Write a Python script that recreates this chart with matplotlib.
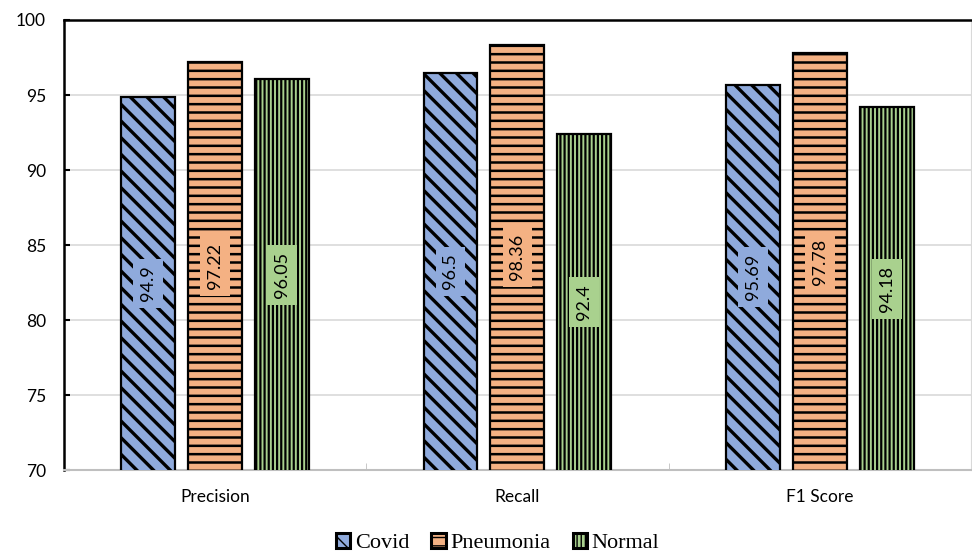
import matplotlib.pyplot as plt
import numpy as np

# Data
categories = ['Precision', 'Recall', 'F1 Score']
series = ['Covid', 'Pneumonia', 'Normal']
covid = [94.9, 96.5, 95.69]
pneumonia = [97.22, 98.36, 97.78]
normal = [96.05, 92.4, 94.18]
labels = [['94.9', '96.5', '95.69'], ['97.22', '98.36', '97.78'], ['96.05', '92.4', '94.18']]

colors = ['#8FAADC', '#F4B183', '#A9D18E']
hatches = ['\\\\', '--', '||||']
hatch_lw = [2.4, 1.8, 1.6]

fig = plt.figure(figsize=(9.72, 5.54), dpi=100)
ax = fig.add_axes([0.0658, 0.1516, 0.933, 0.8123])

x = np.arange(len(categories))
w = 0.178; step = 0.2215
handles = []
for i, vals in enumerate([covid, pneumonia, normal]):
    bars = ax.bar(x + (i - 1) * step, vals, w, bottom=0, color=colors[i],
                  edgecolor='black', linewidth=1.6, hatch=hatches[i],
                  label=series[i], zorder=3)
    for b in bars:
        if hasattr(b, 'set_hatch_linewidth'):
            b.set_hatch_linewidth(hatch_lw[i])
    handles.append(bars)
    for j, b in enumerate(bars):
        yc = (70 + vals[j]) / 2
        ax.text(b.get_x() + b.get_width() / 2, yc, labels[i][j], rotation=90,
                ha='center', va='center', fontsize=13, family='Lato', zorder=4,
                bbox=dict(facecolor=colors[i], edgecolor='none', pad=5))

ax.set_ylim(70, 100)
ax.set_xlim(-0.5, 2.5)
ax.set_yticks(np.arange(70, 101, 5))
ax.grid(axis='y', color='#D9D9D9', linewidth=1.2, zorder=0)
ax.set_xticks(x)
ax.set_xticklabels(categories, family='Lato', fontsize=12.5)
ax.set_xticks([-0.5, 0.5, 1.5, 2.5], minor=True)
ax.tick_params(axis='x', which='major', length=0, pad=14)
ax.tick_params(axis='x', which='minor', length=5, direction='in', color='#BFBFBF')
ax.tick_params(axis='y', length=4, direction='in', width=1.5, pad=13, labelsize=12.5)
for t in ax.get_yticklabels():
    t.set_family('Lato')

ax.spines['left'].set_linewidth(1.8)
ax.spines['top'].set_linewidth(1.8)
ax.spines['bottom'].set_color('#BFBFBF')
ax.spines['bottom'].set_linewidth(1.5)
ax.spines['right'].set_color('#D9D9D9')

leg = fig.legend(handles=handles, loc='center', bbox_to_anchor=(0.512, 0.02), ncol=3,
                 frameon=False, prop={'family': 'Liberation Serif', 'size': 16},
                 handlelength=0.65, handleheight=0.65, handletextpad=0.2, columnspacing=1.0)
for p in leg.get_patches():
    p.set_linewidth(2.2)

fig.savefig('out.png', dpi=100)
